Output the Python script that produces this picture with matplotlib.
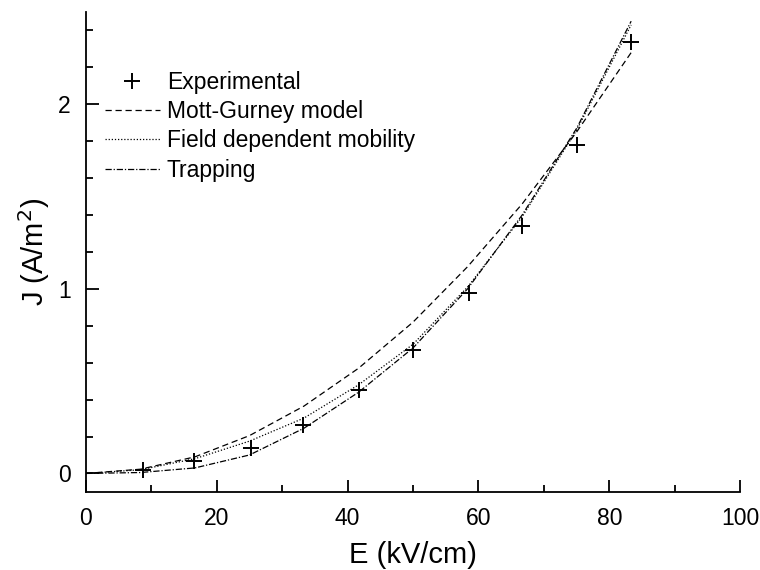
import matplotlib
matplotlib.use("Agg")
import matplotlib.pyplot as plt
from matplotlib.ticker import MultipleLocator

plt.rcParams['font.family'] = ['Liberation Sans', 'DejaVu Sans']

# experimental points
E_exp = [8.7, 16.5, 25.2, 33.2, 41.7, 50.0, 58.5, 66.7, 75.0, 83.3]
J_exp = [0.02, 0.065, 0.14, 0.26, 0.45, 0.67, 0.98, 1.34, 1.78, 2.335]

# model curves
E_fit = [0, 8.33, 16.67, 25.0, 33.33, 41.67, 50.0, 58.33, 66.67, 75.0, 83.33]
J_mott = [0, 0.023, 0.09, 0.205, 0.365, 0.57, 0.82, 1.12, 1.46, 1.85, 2.28]
J_field = [0, 0.02, 0.08, 0.175, 0.30, 0.48, 0.70, 1.01, 1.39, 1.86, 2.43]
J_trap = [0, 0.005, 0.03, 0.10, 0.245, 0.44, 0.68, 1.0, 1.40, 1.87, 2.45]

fig = plt.figure(figsize=(7.6, 5.7), dpi=100)
ax = fig.add_axes([0.113, 0.137, 0.861, 0.842])

ax.plot(E_exp, J_exp, "k+", markersize=11, markeredgewidth=1.4, label="Experimental")
ax.plot(E_fit, J_mott, color="k", linestyle=(0, (5, 3)), linewidth=0.9, label="Mott-Gurney model")
ax.plot(E_fit, J_field, color="k", linestyle=(0, (1, 1.5)), linewidth=0.9, label="Field dependent mobility")
ax.plot(E_fit, J_trap, color="k", linestyle=(0, (5, 1.5, 1, 1.5)), linewidth=0.9, label="Trapping")

ax.set_xlim(0, 100)
ax.set_ylim(-0.1, 2.5)
ax.spines["top"].set_visible(False)
ax.spines["right"].set_visible(False)
ax.spines["left"].set_linewidth(1.3)
ax.spines["bottom"].set_linewidth(1.3)

ax.xaxis.set_major_locator(MultipleLocator(20))
ax.xaxis.set_minor_locator(MultipleLocator(10))
ax.yaxis.set_major_locator(MultipleLocator(1))
ax.yaxis.set_minor_locator(MultipleLocator(0.2))
ax.tick_params(which="both", direction="in", width=1.3, labelsize=16.5)
ax.tick_params(which="major", length=9, pad=11)
ax.tick_params(which="minor", length=5)

ax.set_xlabel("E (kV/cm)", fontsize=21, labelpad=8)
ax.set_ylabel("J (A/m$^2$)", fontsize=21)

ax.legend(loc="upper left", frameon=False, fontsize=16.5, handlelength=2.4,
          handletextpad=0.3, labelspacing=0.28, borderaxespad=0.0,
          bbox_to_anchor=(0.015, 0.897))

fig.savefig("out.png", dpi=100)
